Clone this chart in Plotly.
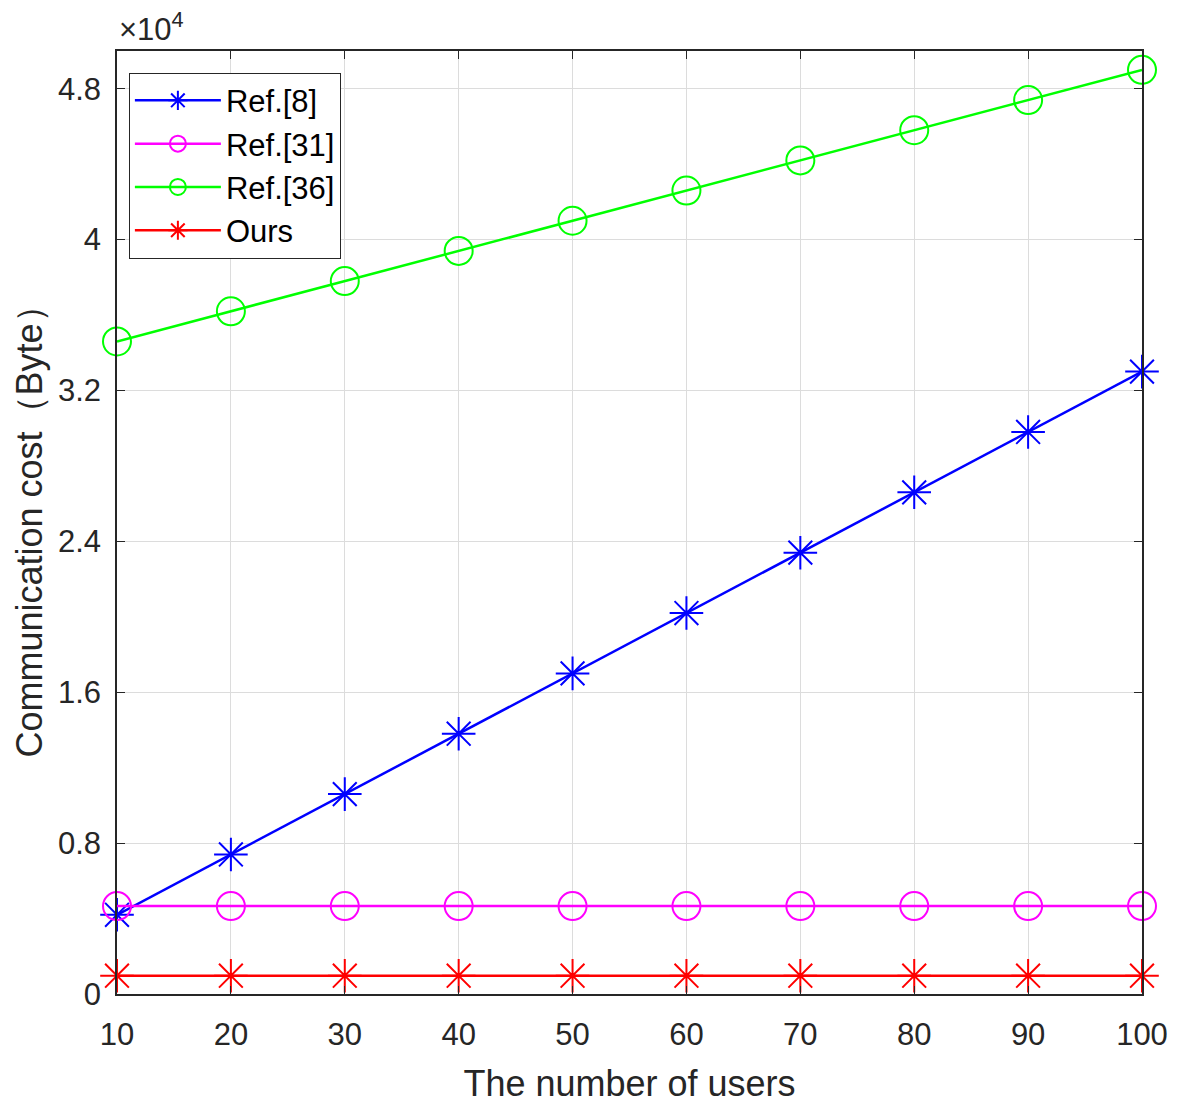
import plotly.graph_objects as go

users = [10, 20, 30, 40, 50, 60, 70, 80, 90, 100]
ref8 = [4200, 7400, 10600, 13800, 17000, 20200, 23400, 26600, 29800, 33000]
ref31 = [4660] * 10
ref36 = [34600, 36200, 37800, 39400, 41000, 42600, 44200, 45800, 47400, 49000]
ours = [970] * 10

y_tick_vals = [0, 8000, 16000, 24000, 32000, 40000, 48000]
y_tick_text = ["0", "0.8", "1.6", "2.4", "3.2", "4", "4.8"]
x_tick_vals = users

FONT = "Liberation Sans, Arial, Helvetica, sans-serif"
TXT = "#262626"

series = [
    ("Ref.[8]", ref8, "#0000FF", "asterisk-open"),
    ("Ref.[31]", ref31, "#FF00FF", "circle-open"),
    ("Ref.[36]", ref36, "#00FF00", "circle-open"),
    ("Ours", ours, "#FF0000", "asterisk-open"),
]

fig = go.Figure()
for name, vals, color, sym in series:
    fig.add_trace(go.Scatter(
        x=users, y=vals, name=name, mode="lines+markers",
        line=dict(color=color, width=2.5),
        marker=dict(symbol=sym, size=28, color=color,
                    line=dict(color=color, width=2)),
        cliponaxis=False,
    ))

axis_common = dict(
    showline=True, linecolor=TXT, linewidth=1.5, mirror="ticks",
    ticks="inside", ticklen=8, tickcolor=TXT,
    showgrid=True, gridcolor="#DCDCDC", gridwidth=1,
    zeroline=False,
    tickfont=dict(family=FONT, size=31, color=TXT),
)

fig.update_layout(
    width=1180, height=1109,
    margin=dict(l=117, r=30, t=51, b=111),
    paper_bgcolor="white", plot_bgcolor="white",
    font=dict(family=FONT, color=TXT),
    xaxis=dict(range=[10, 100], tickvals=x_tick_vals, ticklabelstandoff=12,
               title=dict(text="The number of users", font=dict(family=FONT, size=36, color=TXT), standoff=20),
               **axis_common),
    yaxis=dict(range=[0, 50000], tickvals=y_tick_vals, ticktext=y_tick_text, ticklabelstandoff=8,
               title=dict(text="Communication cost（Byte）", font=dict(family=FONT, size=36, color=TXT), standoff=4),
               **axis_common),
    legend=dict(x=0.0116, y=0.977, xanchor="left", yanchor="top",
                bgcolor="white", bordercolor=TXT, borderwidth=1,
                font=dict(family=FONT, size=31, color="black"),
                itemwidth=86, tracegroupgap=0),
    showlegend=True,
    annotations=[dict(
        xref="paper", yref="paper", x=0.0, y=1.0, xanchor="left", yanchor="bottom",
        text="×10<sup>4</sup>", showarrow=False, yshift=2,
        font=dict(family=FONT, size=31, color=TXT),
    )],
)

fig.write_html("out.html",
               config={"displayModeBar": False},
               post_script="document.body.style.margin='0';document.body.style.overflow='hidden';")
